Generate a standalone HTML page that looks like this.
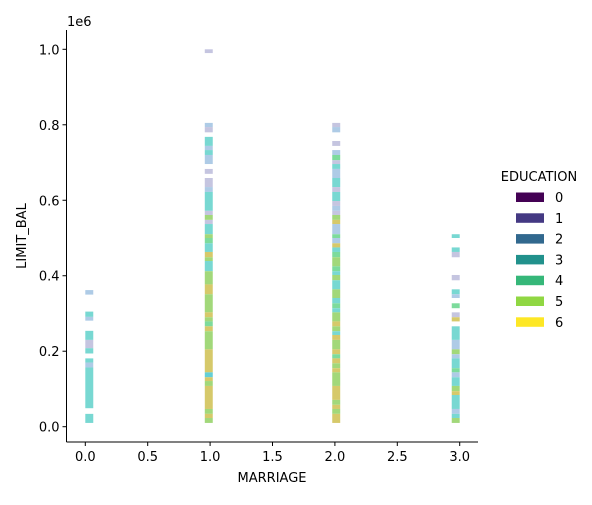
<!DOCTYPE html>
<html><head><meta charset="utf-8"><style>
body{margin:0;background:#fff;}
svg text{font-family:"DejaVu Sans","Liberation Sans",sans-serif;fill:#000;}
</style></head><body>
<svg id="chart" width="592" height="500" viewBox="0 0 592 500" xmlns="http://www.w3.org/2000/svg">
<g id="plot"></g>
<g id="axes"></g>
<g id="legend"></g>
</svg>
<script>
const categories = [0, 1, 2, 3];
const colors = ["#c5c5e0", "#aecbe6", "#78d8d2", "#7ddb9c", "#a2d87a", "#d6c96a", "#63cfd6"];
// segments: [start (thousands), end (thousands), colorIndex]
const col0 = [[350,362,1],[291,305,2],[281,291,1],[230,254,2],[208,230,0],[194,208,2],[170,181,2],[157,170,1],[49,157,2],[10,34,2]];
const col1 = [[990,1000,0],[794,805,1],[780,794,0],[744,768,2],[733,744,1],[720,733,2],[696,720,1],[670,683,0],[635,659,0],[622,635,1],[572,622,2],[561,572,0],[548,561,4],[537,548,0],[510,537,2],[500,510,4],[486,500,3],[463,486,2],[449,463,5],[439,449,4],[412,439,2],[377,412,4],[351,377,5],[303,351,4],[290,303,5],[279,290,4],[266,279,3],[253,266,5],[205,253,4],[144,205,5],[131,144,6],[121,131,5],[108,121,4],[47,108,5],[34,47,4],[23,34,5],[10,23,4]];
const col2 = [[794,805,0],[780,794,1],[744,757,0],[720,733,1],[706,720,3],[696,706,0],[683,696,2],[659,683,1],[635,659,2],[622,635,0],[598,622,2],[585,598,0],[572,585,1],[561,572,0],[548,561,4],[537,548,5],[510,537,1],[500,510,3],[486,500,1],[475,486,5],[463,475,2],[449,463,3],[425,449,4],[412,425,3],[402,412,2],[388,402,4],[364,388,2],[341,364,4],[327,341,2],[314,327,3],[303,314,2],[279,303,4],[266,279,5],[253,266,4],[243,253,2],[230,243,5],[205,230,4],[192,205,5],[181,192,3],[168,181,5],[155,168,4],[144,155,5],[108,144,4],[71,108,5],[58,71,4],[47,58,5],[34,47,4],[10,34,5]];
const col3 = [[500,510,2],[463,475,2],[449,463,0],[388,402,0],[351,364,2],[341,351,1],[314,327,3],[290,303,0],[279,290,5],[230,266,2],[205,230,1],[192,205,4],[181,192,1],[155,181,2],[144,155,3],[131,144,1],[108,131,2],[94,108,4],[84,94,5],[47,84,2],[34,47,1],[23,34,2],[10,23,4]];
const xTicks = [0, 0.5, 1, 1.5, 2, 2.5, 3];
const yTicks = [0, 0.2, 0.4, 0.6, 0.8, 1.0];
const legendLabels = ["0","1","2","3","4","5","6"];
const legendColors = ["#440154","#443983","#31688e","#21918c","#35b779","#90d743","#fde725"];

const NS = "http://www.w3.org/2000/svg";
const X0 = 85.3, XS = 124.8, Y0 = 426.7, YS = 377.4;
function xs(v){ return X0 + v*XS; }
function ys(v){ return Y0 - v*YS; } // v in millions
const binW = 3/47;
function mk(tag, attrs, parent){ const e=document.createElementNS(NS,tag); for(const k in attrs) e.setAttribute(k, attrs[k]); parent.appendChild(e); return e; }

const plot = document.getElementById('plot');
const cols = [col0, col1, col2, col3];
cols.forEach((segs, ci) => {
  const v = categories[ci];
  const b = Math.min(Math.floor(v/binW + 1e-9), 46);
  const x1 = xs(b*binW), x2 = xs((b+1)*binW);
  segs.forEach(s => {
    const r = mk('rect', {x:x1, y:ys(s[1]/1000), width:x2-x1, height:ys(s[0]/1000)-ys(s[1]/1000), fill:colors[s[2]]}, plot);
    
    
  });
});

const axes = document.getElementById('axes');
const L = 66.5, R = 478, T = 30, B = 442;
const FS = 13;
let sp = mk('line', {x1:L, y1:T, x2:L, y2:B, stroke:'#000', 'stroke-width':1}, axes);


sp = mk('line', {x1:L, y1:B, x2:R, y2:B, stroke:'#000', 'stroke-width':1}, axes);


xTicks.forEach(t => {
  const x = xs(t);
  mk('line', {x1:x, y1:B, x2:x, y2:B+4, stroke:'#000'}, axes);
  const tx = mk('text', {x:x, y:B+19, 'font-size':FS, 'text-anchor':'middle'}, axes);
  tx.textContent = t.toFixed(1);
  
  
});
yTicks.forEach(t => {
  const y = ys(t);
  mk('line', {x1:L-4, y1:y, x2:L, y2:y, stroke:'#000'}, axes);
  const tx = mk('text', {x:L-7, y:y+5, 'font-size':FS, 'text-anchor':'end'}, axes);
  tx.textContent = t.toFixed(1);
  
  
});
let t = mk('text', {x:67, y:26, 'font-size':FS}, axes); t.textContent='1e6';


t = mk('text', {x:272, y:482, 'font-size':FS, 'text-anchor':'middle'}, axes); t.textContent='MARRIAGE';


t = mk('text', {x:0, y:0, 'font-size':FS, 'text-anchor':'middle', transform:'translate(26,236) rotate(-90)'}, axes); t.textContent='LIMIT_BAL';



const lg = document.getElementById('legend');
t = mk('text', {x:539, y:181, 'font-size':FS, 'text-anchor':'middle'}, lg); t.textContent='EDUCATION';


legendLabels.forEach((lab, i) => {
  const y = 197 + i*20.8;
  const r = mk('rect', {x:516, y:y-4.5, width:28, height:9.5, fill:legendColors[i]}, lg);
  
  
  const tx = mk('text', {x:555, y:y+5, 'font-size':FS}, lg);
  tx.textContent = lab;
  
  
});
</script>
</body></html>
